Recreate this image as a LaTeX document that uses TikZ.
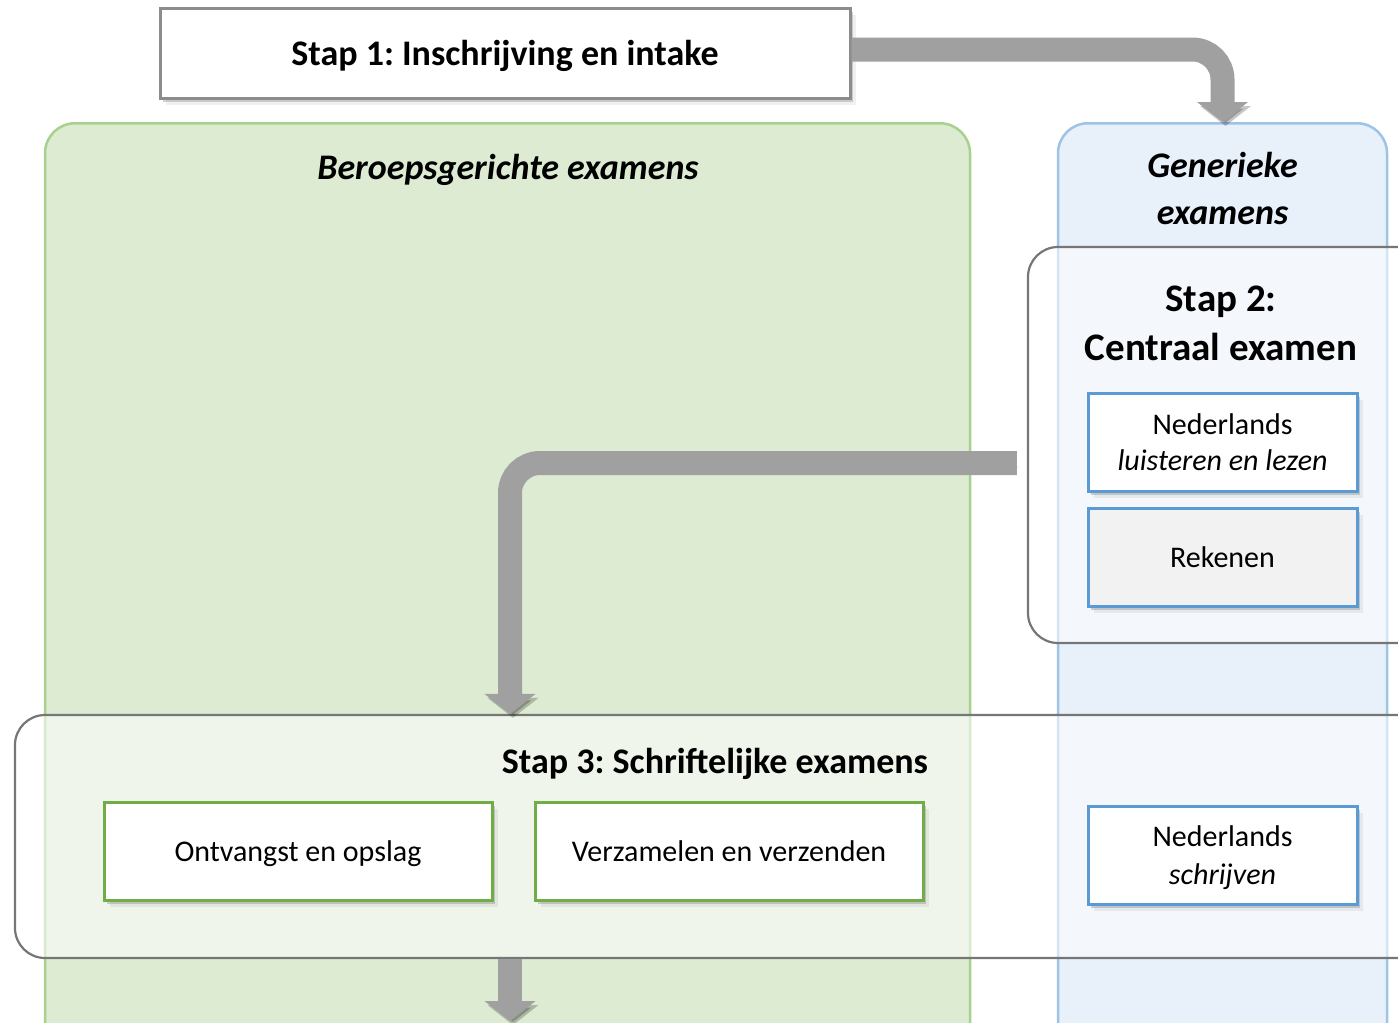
\documentclass[tikz,border=0pt]{standalone}
\usepackage{fontspec}
\setmainfont{Carlito}
\frenchspacing
\usetikzlibrary{arrows.meta,positioning,shadows}

\definecolor{groenvlak}{HTML}{DCEBD2}
\definecolor{groenrand}{HTML}{A9D18E}
\definecolor{blauwvlak}{HTML}{E8F0F9}
\definecolor{blauwrand}{HTML}{9DC3E6}
\definecolor{groenlijn}{HTML}{70AD47}
\definecolor{blauwlijn}{HTML}{5B9BD5}
\definecolor{grijsrand}{HTML}{767676}
\definecolor{kopgrijs}{HTML}{8C8C8C}
\definecolor{pijlgrijs}{HTML}{A0A0A0}
\definecolor{rekengrijs}{HTML}{F2F2F2}

\tikzset{
	kop/.style={font=\fontsize{36}{45}\selectfont\bfseries, inner sep=0pt, align=center},
	schaduw/.style={drop shadow={shadow xshift=6pt, shadow yshift=-7pt, opacity=.12},
		drop shadow={shadow xshift=3pt, shadow yshift=-4pt, opacity=.35}},
	vak/.style={draw, line width=3pt, fill=white, inner sep=0pt, align=center, text depth=0pt,
		minimum height=98pt, font=\fontsize{30}{36}\selectfont, schaduw},
	groenvak/.style={vak, draw=groenlijn, minimum width=388pt},
	blauwvak/.style={vak, draw=blauwlijn, minimum width=269pt},
	paneel/.style={line width=2.5pt, rounded corners=30pt, inner sep=0pt, anchor=north, minimum height=960pt},
	stapkader/.style={draw=grijsrand, line width=2.2pt, rounded corners=30pt, fill=white, fill opacity=.55, inner sep=0pt},
	bigarrow/.style={draw=pijlgrijs, line width=24pt, rounded corners=30pt,
		-{Triangle[width=50pt,length=20pt]},
		preaction={draw=black, opacity=.22, transform canvas={shift={(3pt,-4pt)}}}}
}

\begin{document}
\begin{tikzpicture}[x=1pt,y=-1pt]
			\useasboundingbox (0,0) rectangle (1398,1023);
			\clip (0,0) rectangle (1398,1023);
			% Panelen
			\node[paneel, draw=groenrand, fill=groenvlak, minimum width=925pt] (beroep) at (507.5,122) {};
			\node[paneel, draw=blauwrand, fill=blauwvlak, minimum width=329pt] (generiek) at (1222.5,122) {};
			\node[kop, font=\fontsize{36}{45}\selectfont\bfseries\itshape, anchor=base] (beroeptitel) at (508,179) {Beroepsgerichte examens};
			\node[kop, font=\fontsize{36}{47}\selectfont\bfseries\itshape, anchor=north] (generiektitel) at (1222.5,152) {Generieke\\examens};
			
			% Stap 2 en stap 3
			\node[stapkader, minimum width=402pt, minimum height=396pt] (staptwee) at (1229,445) {};
			\node[stapkader, minimum width=1415pt, minimum height=243pt] (stapdrie) at (722.5,836.5) {};
			\node[kop, font=\fontsize{39}{49}\selectfont\bfseries, anchor=north] (stap2titel) at (1221,286) {Stap 2:\\Centraal examen};
			\node[kop, anchor=base] (stap3titel) at (715,773) {Stap 3: Schriftelijke examens};
			
			\node[blauwvak] (nedll) at (1222.5,442) {Nederlands\\\textit{luisteren en lezen}};
			\node[blauwvak, fill=rekengrijs, below=14pt of nedll] (reken) {Rekenen};
			\node[groenvak] (ontv) at (298,851) {Ontvangst en opslag};
			\node[groenvak, right=40pt of ontv] (verz) {Verzamelen en verzenden};
			\node[blauwvak, font=\fontsize{30}{38}\selectfont] (nedschr) at (1222.5,855) {Nederlands\\\textit{schrijven}};
			
			% Stap 1
			\node[kop, draw=kopgrijs, line width=3pt, fill=white, minimum width=690pt, minimum height=90pt,
				text depth=0pt, schaduw] (stapeen) at (505,53) {Stap 1: Inschrijving en intake};
			
			% Pijlen
			\coordinate (doorloop) at (510,0);
			\coordinate (einde) at (510,1021);
			\draw[bigarrow] ([yshift=3.5pt]stapeen.east) -| (generiek.north);
			\draw[bigarrow] ([xshift=-10pt,yshift=-18pt]staptwee.west) -| (doorloop |- stapdrie.north);
			\draw[bigarrow] (doorloop |- stapdrie.south) -- (einde);
		\end{tikzpicture}
\end{document}
